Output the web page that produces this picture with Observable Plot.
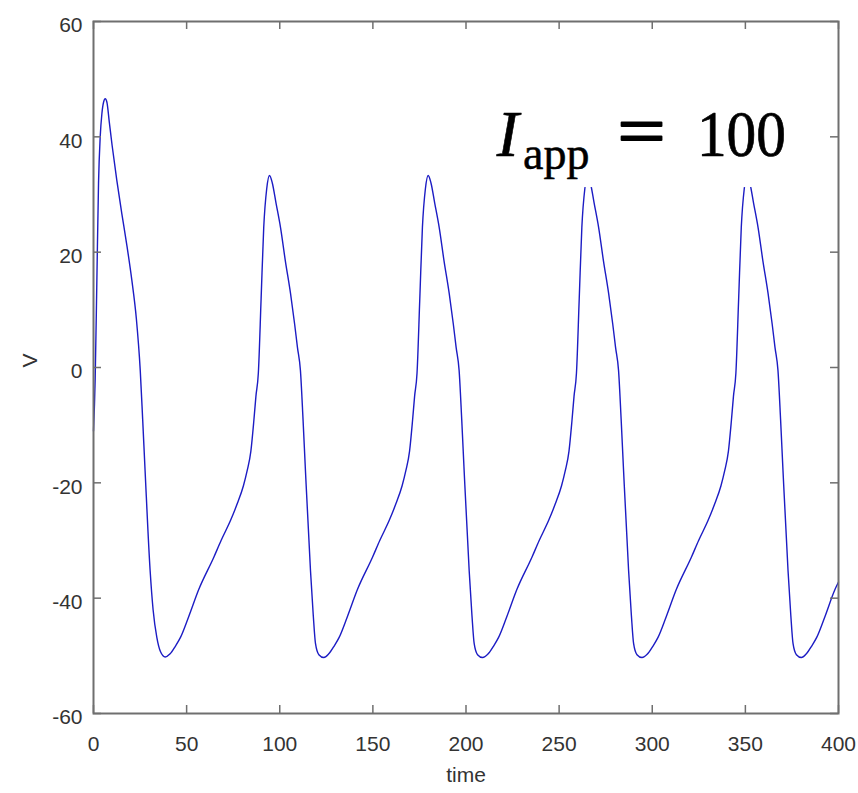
<!DOCTYPE html>
<html>
<head>
<meta charset="utf-8">
<script src="https://cdn.jsdelivr.net/npm/d3@7"></script>
<script src="https://cdn.jsdelivr.net/npm/@observablehq/plot@0.6"></script>
<style>
  html, body { margin: 0; padding: 0; background: #fff; }
  #chart svg { display: block; }
</style>
</head>
<body>
<div id="chart"></div>
<script>
// ---- data ----
const time = [
  0, 0.9, 1.8, 2.7, 3.6, 4.5, 5.4, 6.3, 7.2, 8.5, 10, 12.5, 15.2, 18, 20.6, 23, 25.1, 26.4, 27.7, 30.4, 32, 34, 36, 38.5,
  41, 44, 46.7, 51, 56.5, 64.6, 68.5, 73.6, 77.2, 80.5, 82.5, 84.5, 86.1, 87.2, 88.5, 90, 91.4, 93, 94.5,
  96, 98, 100.4, 103, 105.8, 108, 109.5, 111.1, 112.5, 113.8, 116.5, 118, 119.2, 121, 123.7,
  126.2, 129.2, 131.9, 136.2, 141.7, 149.8, 153.7, 158.8, 162.4, 165.7, 167.7, 169.7, 171.3, 172.4, 173.7, 175.2, 176.6, 178.2, 179.7,
  181.2, 183.2, 185.6, 188.2, 191, 193.2, 194.7, 196.3, 197.7, 199, 201.7, 203.2, 204.4, 206.2, 208.9,
  211.8, 214.8, 217.5, 221.8, 227.3, 235.4, 239.3, 244.4, 248, 251.3, 253.3, 255.3, 256.9, 258, 259.3, 260.8, 262.2, 263.8, 265.3,
  266.8, 268.8, 271.2, 273.8, 276.6, 278.8, 280.3, 281.9, 283.3, 284.6, 287.3, 288.8, 290, 291.8, 294.5,
  297.4, 300.4, 303.1, 307.4, 312.9, 321, 324.9, 330, 333.6, 336.9, 338.9, 340.9, 342.5, 343.6, 344.9, 346.4, 347.8, 349.4, 350.9,
  352.4, 354.4, 356.8, 359.4, 362.2, 364.4, 365.9, 367.5, 368.9, 370.2, 372.9, 374.4, 375.6, 377.4, 380.1,
  382.6, 385.6, 388.3, 392.6, 398.1, 400
];
const voltage = [
  -11, -2, 15, 32, 40, 44, 46, 46.6, 46, 42.5, 38.5, 32.5, 26.7, 21, 15.1, 8.5, -0.5, -9, -17.9, -35.2, -42, -46.8, -49.3, -50.2,
  -49.7, -48.3, -46.8, -43.3, -38.5, -32.9, -30, -26.5, -23.6, -20.5, -17.9, -14.5, -9.2, -5, -1, 12, 24.3, 31, 33.3,
  32, 28.5, 24.3, 18.5, 12.8, 7.5, 3.5, -0.5, -9, -17.9, -35.2, -43, -47.9, -49.8, -50.3,
  -49.7, -48.3, -46.8, -43.3, -38.5, -32.9, -30, -26.5, -23.6, -20.5, -17.9, -14.5, -9.2, -5, -1, 12, 24.3, 31, 33.3,
  32, 28.5, 24.3, 18.5, 12.8, 7.5, 3.5, -0.5, -9, -17.9, -35.2, -43, -47.9, -49.8, -50.3,
  -49.7, -48.3, -46.8, -43.3, -38.5, -32.9, -30, -26.5, -23.6, -20.5, -17.9, -14.5, -9.2, -5, -1, 12, 24.3, 31, 33.3,
  32, 28.5, 24.3, 18.5, 12.8, 7.5, 3.5, -0.5, -9, -17.9, -35.2, -43, -47.9, -49.8, -50.3,
  -49.7, -48.3, -46.8, -43.3, -38.5, -32.9, -30, -26.5, -23.6, -20.5, -17.9, -14.5, -9.2, -5, -1, 12, 24.3, 31, 33.3,
  32, 28.5, 24.3, 18.5, 12.8, 7.5, 3.5, -0.5, -9, -17.9, -35.2, -43, -47.9, -49.8, -50.3,
  -49.7, -48.3, -46.8, -43.3, -38.5, -37.2
];
const xTicks = [0, 50, 100, 150, 200, 250, 300, 350, 400];
const yTicks = [-60, -40, -20, 0, 20, 40, 60];
const xLabel = "time";
const yLabel = "V";

// annotation (data units)
const annBox = [{x1: 210.5, x2: 379.6, y1: 31.2, y2: 49.8}];
const annParts = [
  {text: "I",   x: 216.5, y: 36.6, size: 66, style: "italic", cls: "ann-i",   sw: 0.6},
  {text: "app", x: 230.6, y: 34.5, size: 46, style: "normal", cls: "ann-sub", sw: 0.5},
  {text: "=",   x: 281.3, y: 36.9, size: 70, style: "normal", cls: "ann-eq",  sw: 1.8},
  {text: "100", x: 324.0, y: 36.6, size: 66, style: "normal", cls: "ann-num", sw: 0.7}
];

const data = time.map((t, i) => ({t, v: voltage[i]}));

const W = 858, H = 793;
const mL = 93, mR = 20, mT = 21, mB = 80;
const innerW = W - mL - mR, innerH = H - mT - mB;
const tickLen = 8;
const axisColor = "#6f6f6f";
const labelColor = "#333";
const sans = "'Liberation Sans', Arial, Helvetica, sans-serif";
const serif = "'Liberation Serif', 'Times New Roman', Times, serif";

const chart = Plot.plot({
  width: W,
  height: H,
  marginLeft: mL,
  marginRight: mR,
  marginTop: mT,
  marginBottom: mB,
  style: {fontFamily: sans, background: "#fff"},
  x: {domain: [0, 400]},
  y: {domain: [-60, 60]},
  marks: [
    Plot.line(data, {x: "t", y: "v", stroke: "#1c1cc4", strokeWidth: 1.4, curve: "monotone-x"}),
    // inward ticks on all four sides
    Plot.tickX(xTicks, {x: d => d, insetTop: innerH - tickLen, stroke: axisColor, strokeWidth: 1.5}),
    Plot.tickX(xTicks, {x: d => d, insetBottom: innerH - tickLen, stroke: axisColor, strokeWidth: 1.5}),
    Plot.tickY(yTicks, {y: d => d, insetRight: innerW - tickLen, stroke: axisColor, strokeWidth: 1.5}),
    Plot.tickY(yTicks, {y: d => d, insetLeft: innerW - tickLen, stroke: axisColor, strokeWidth: 1.5}),
    Plot.frame({stroke: axisColor, strokeWidth: 2}),
    Plot.axisX({ticks: xTicks, tickSize: 0, tickPadding: 23, fontSize: 21, fill: labelColor, label: null, tickFormat: d => String(d)}),
    Plot.axisY({ticks: yTicks, tickSize: 0, tickPadding: 11, fontSize: 21, fill: labelColor, label: null, dy: 4, tickFormat: d => String(d)}),
    Plot.text([xLabel], {frameAnchor: "bottom", dy: 62, fontSize: 21, fill: labelColor, lineAnchor: "middle"}),
    Plot.text([yLabel], {frameAnchor: "left", dx: -63, rotate: -90, fontSize: 21, fill: labelColor, lineAnchor: "middle"}),
    // annotation with white background
    Plot.rect(annBox, {x1: "x1", x2: "x2", y1: "y1", y2: "y2", fill: "white"}),
    ...annParts.map(p => Plot.text([p], {
      x: "x", y: "y", text: "text", textAnchor: "start", lineAnchor: "bottom",
      fontSize: p.size, fontStyle: p.style, fontFamily: serif, fill: "#000",
      stroke: "#000", strokeWidth: p.sw, className: p.cls
    }))
  ]
});

document.getElementById("chart").appendChild(chart);
const svg = d3.select(chart);
svg.selectAll(".ann-eq text").attr("textLength", 48).attr("lengthAdjust", "spacingAndGlyphs");
svg.selectAll(".ann-num text").attr("textLength", 89).attr("lengthAdjust", "spacingAndGlyphs");
</script>
</body>
</html>
